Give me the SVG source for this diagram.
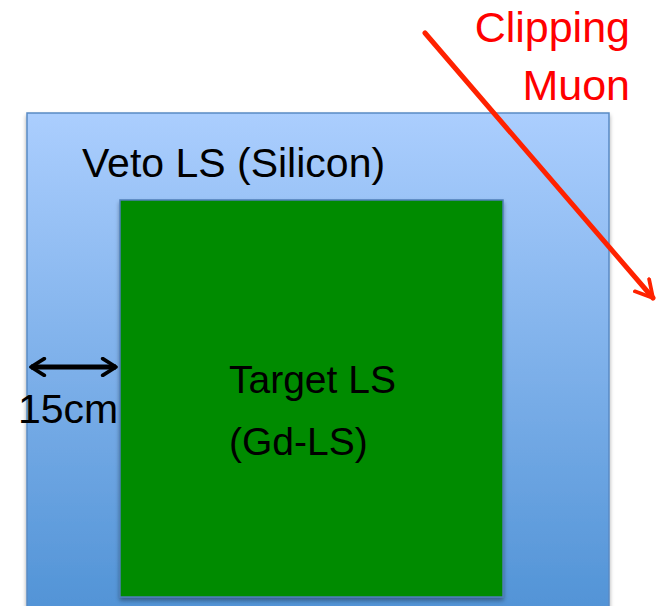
<svg xmlns="http://www.w3.org/2000/svg" width="657" height="606" viewBox="0 0 657 606">
<style>
.t{font-family:"Liberation Sans",Arial,sans-serif;font-size:41px;fill:#000}
.m{font-size:39px}
.r{font-family:"Liberation Sans",Arial,sans-serif;font-size:43px;fill:#ff0000;text-anchor:end}
</style>
<defs>
<linearGradient id="blue" x1="0" y1="0" x2="0" y2="1">
<stop offset="0" stop-color="#abcefe"/>
<stop offset="1" stop-color="#5193d6"/>
</linearGradient>
<filter id="sh" x="-5%" y="-5%" width="110%" height="110%">
<feDropShadow dx="0" dy="3" stdDeviation="2" flood-color="#000" flood-opacity="0.35"/>
</filter>
<marker id="redhead" viewBox="0 0 12 12" refX="10" refY="6" markerWidth="4.5" markerHeight="4.5" orient="auto" markerUnits="strokeWidth">
<polyline points="1,1 10,6 1,11" fill="none" stroke="#ff2200" stroke-width="2" stroke-linecap="round" stroke-linejoin="round"/>
</marker>
<marker id="blk" viewBox="0 0 12 12" refX="10" refY="6" markerWidth="4" markerHeight="4" orient="auto-start-reverse" markerUnits="strokeWidth">
<polyline points="2,1 10,6 2,11" fill="none" stroke="#000" stroke-width="2.2" stroke-linecap="round" stroke-linejoin="round"/>
</marker>
</defs>
<g id="veto">
<rect x="27" y="113" width="582" height="500" fill="url(#blue)" stroke="#5a8ac4" stroke-width="1.5" filter="url(#sh)"/>
<text class="t" x="82" y="177">Veto LS (Silicon)</text>
</g>
<g id="target">
<rect x="120" y="200" width="383" height="397" fill="#008b00" stroke="#4f7fb8" stroke-width="1.5" filter="url(#sh)"/>
<text class="t m" x="229" y="393">Target LS</text>
<text class="t m" x="229" y="455">(Gd-LS)</text>
</g>
<g id="muon-label">
<text class="r" x="630" y="42">Clipping</text>
<text class="r" x="630" y="100">Muon</text>
</g>
<g id="connectors">
<line x1="425" y1="33" x2="653" y2="298" stroke="#ff2200" stroke-width="5" stroke-linecap="round" marker-end="url(#redhead)"/>
<line x1="31" y1="367" x2="116" y2="367" stroke="#000" stroke-width="5" marker-start="url(#blk)" marker-end="url(#blk)"/>
</g>
<g id="dim-label">
<text class="t" x="18" y="423">15cm</text>
</g>
</svg>
